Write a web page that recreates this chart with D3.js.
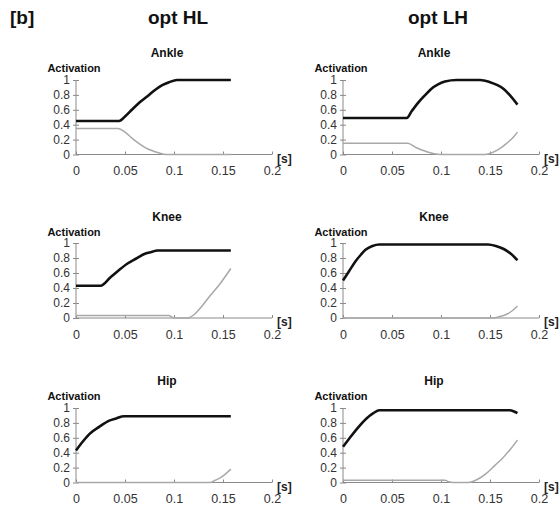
<!DOCTYPE html>
<html><head><meta charset="utf-8">
<script src="https://cdn.jsdelivr.net/npm/d3@7"></script>
<style>
html,body{margin:0;padding:0;background:#fff;}
svg{display:block;font-family:Arial,"Liberation Sans",sans-serif;}
</style></head>
<body><svg id="c" width="559" height="511"></svg>
<script>
// ---- data ----
const columnTitles = ["opt HL", "opt LH"];
const rowTitles = ["Ankle", "Knee", "Hip"];
const xTicks = [0, 0.05, 0.1, 0.15, 0.2];
const xTickLabels = ["0", "0.05", "0.1", "0.15", "0.2"];
const yTicks = [0, 0.2, 0.4, 0.6, 0.8, 1];
const yTickLabels = ["0", "0.2", "0.4", "0.6", "0.8", "1"];

// [time s, activation]
const ankleHL_black = [[0,0.45],[0.044,0.45],[0.05,0.51],[0.057,0.6],[0.066,0.71],[0.0745,0.8],[0.082,0.88],[0.088,0.93],[0.095,0.97],[0.103,1.0],[0.158,1.0]];
const ankleHL_gray  = [[0,0.35],[0.043,0.35],[0.05,0.3],[0.057,0.22],[0.064,0.15],[0.071,0.09],[0.078,0.05],[0.085,0.02],[0.092,0.0],[0.158,0]];
const ankleLH_black = [[0,0.49],[0.065,0.49],[0.07,0.58],[0.077,0.70],[0.084,0.80],[0.09,0.88],[0.097,0.94],[0.104,0.98],[0.116,1.0],[0.14,1.0],[0.15,0.97],[0.157,0.935],[0.164,0.88],[0.17,0.80],[0.178,0.67]];
const ankleLH_gray  = [[0,0.15],[0.066,0.15],[0.075,0.09],[0.085,0.04],[0.093,0.01],[0.1,0],[0.145,0],[0.153,0.03],[0.16,0.08],[0.167,0.15],[0.173,0.22],[0.178,0.30]];
const kneeHL_black  = [[0,0.43],[0.025,0.43],[0.035,0.54],[0.044,0.64],[0.053,0.73],[0.061,0.79],[0.071,0.86],[0.077,0.88],[0.083,0.9],[0.158,0.9]];
const kneeHL_gray   = [[0,0.035],[0.095,0.035],[0.098,0.01],[0.102,0],[0.114,0],[0.12,0.04],[0.128,0.15],[0.137,0.30],[0.146,0.44],[0.158,0.66]];
const kneeLH_black  = [[0,0.5],[0.006,0.62],[0.013,0.76],[0.018,0.84],[0.023,0.91],[0.03,0.96],[0.037,0.98],[0.148,0.98],[0.156,0.96],[0.164,0.92],[0.171,0.86],[0.178,0.77]];
const kneeLH_gray   = [[0,0],[0.153,0],[0.16,0.02],[0.167,0.05],[0.173,0.1],[0.178,0.16]];
const hipHL_black   = [[0,0.43],[0.007,0.55],[0.0136,0.65],[0.024,0.75],[0.034,0.83],[0.041,0.86],[0.049,0.89],[0.158,0.89]];
const hipHL_gray    = [[0,0],[0.137,0],[0.142,0.03],[0.148,0.07],[0.153,0.12],[0.158,0.18]];
const hipLH_black   = [[0,0.48],[0.007,0.6],[0.0136,0.71],[0.024,0.86],[0.031,0.93],[0.037,0.97],[0.17,0.97],[0.175,0.95],[0.178,0.93]];
const hipLH_gray    = [[0,0.03],[0.104,0.03],[0.108,0.01],[0.112,0],[0.128,0],[0.137,0.04],[0.146,0.12],[0.155,0.23],[0.163,0.33],[0.171,0.45],[0.178,0.57]];

const panels = [
  [ankleHL_black, ankleHL_gray, ankleLH_black, ankleLH_gray],
  [kneeHL_black, kneeHL_gray, kneeLH_black, kneeLH_gray],
  [hipHL_black, hipHL_gray, hipLH_black, hipLH_gray]
];

// ---- layout ----
const colX = [[76, 272], [343, 539]];
const rowY = [[154.5, 80], [318, 243], [482.5, 408]];
const svg = d3.select("#c");

svg.append("text").attr("x", 10).attr("y", 24).attr("font-size", 19).attr("font-weight", "bold").attr("fill", "#111").text("[b]");
const colTitleX = [178, 438];
columnTitles.forEach((t, i) => {
  svg.append("text").attr("x", colTitleX[i]).attr("y", 24).attr("text-anchor", "middle")
    .attr("font-size", 19).attr("font-weight", "bold").attr("fill", "#111").text(t);
});

const axisColor = "#8a8a8a";
rowTitles.forEach((rt, r) => {
  [0, 1].forEach(c => {
    const x = d3.scaleLinear().domain([0, 0.2]).range(colX[c]);
    const y = d3.scaleLinear().domain([0, 1]).range(rowY[r]);
    const g = svg.append("g");
    const y0 = y(0);

    // titles
    g.append("text").attr("x", x(0) + 91).attr("y", y0 - 97.5).attr("text-anchor", "middle")
      .attr("font-size", 12).attr("font-weight", "bold").attr("fill", "#111").text(rt);
    g.append("text").attr("x", x(0) - 2).attr("y", y0 - 82.5).attr("text-anchor", "middle")
      .attr("font-size", 11).attr("font-weight", "bold").attr("fill", "#111").text("Activation");

    // y axis
    const ya = g.append("g").attr("transform", `translate(${x(0)},0)`)
      .call(d3.axisLeft(y).tickValues(yTicks).tickFormat((d, i) => yTickLabels[i]).tickSize(3).tickPadding(3));
    ya.select(".domain").attr("stroke", axisColor).attr("d", `M0,${y(0)}V${y(1)}`);
    ya.selectAll(".tick line").attr("stroke", axisColor).attr("x1", 3).attr("x2", -3);
    ya.selectAll(".tick text").attr("font-size", 12).attr("fill", "#333").attr("font-family", "Arial, 'Liberation Sans', sans-serif");

    // x axis
    const xa = g.append("g").attr("transform", `translate(0,${y0})`)
      .call(d3.axisBottom(x).tickValues(xTicks).tickFormat((d, i) => xTickLabels[i]).tickSize(3).tickPadding(9));
    xa.select(".domain").attr("stroke", axisColor).attr("d", `M${x(0)},0H${x(0.2)}`);
    xa.selectAll(".tick line").attr("stroke", axisColor).attr("y1", -3).attr("y2", 0);
    xa.selectAll(".tick text").attr("font-size", 12.5).attr("fill", "#333").attr("font-family", "Arial, 'Liberation Sans', sans-serif");

    g.append("text").attr("x", x(0.2) + 5).attr("y", y0 + 8).attr("font-size", 12)
      .attr("font-weight", "bold").attr("fill", "#222").text("[s]");

    const line = d3.line().x(d => x(d[0])).y(d => y(d[1])).curve(d3.curveMonotoneX);
    const black = panels[r][c * 2], gray = panels[r][c * 2 + 1];
    g.append("path").datum(gray).attr("d", line).attr("fill", "none")
      .attr("stroke", "#a8a8a8").attr("stroke-width", 1.5);
    g.append("path").datum(black).attr("d", line).attr("fill", "none")
      .attr("stroke", "#111").attr("stroke-width", 2.6);
  });
});
</script></body></html>
